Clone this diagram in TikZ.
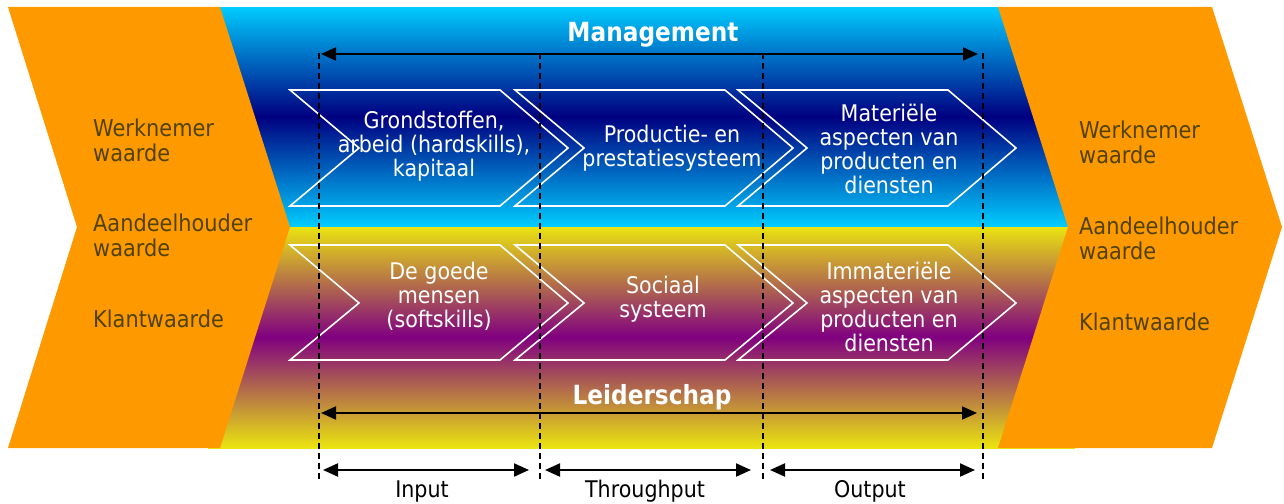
\documentclass[tikz,border=0pt]{standalone}
\usepackage{fontspec}
\setmainfont{DejaVu Sans}
\newfontfamily\tah[FakeStretch=0.9]{DejaVu Sans}
\newfontfamily\tahh[FakeStretch=0.88]{DejaVu Sans}
\usetikzlibrary{arrows.meta,calc}
\definecolor{orng}{RGB}{255,153,0}
\definecolor{cyanc}{RGB}{0,204,255}
\definecolor{navyc}{RGB}{0,0,128}
\definecolor{yellc}{RGB}{234,228,16}
\definecolor{purpc}{RGB}{128,0,128}
\definecolor{olivec}{RGB}{80,66,0}
\newcommand\mychev[4]{% x0, ytop, ymid, ybot
  \draw[chev] (#1,#2) -- ++(210,0) -- ($(#1,#3)+(278,0)$) -- ($(#1,#4)+(210,0)$) -- (#1,#4) -- ($(#1,#3)+(69,0)$) -- cycle;}
\tikzset{
  chev/.style={draw=white, line width=1.6bp, line join=miter},
  chevtext/.style={text=white, align=center, inner sep=0pt, font=\tah\fontsize{23}{24}\selectfont},
  valtext/.style={text=olivec, align=left, anchor=west, inner sep=0pt, font=\tah\fontsize{23.3}{25}\selectfont},
  headtext/.style={text=white, anchor=base, inner sep=0pt, font=\tahh\bfseries\fontsize{26.5}{28}\selectfont},
  phasetext/.style={text=black, anchor=base, inner sep=0pt, font=\tah\fontsize{23}{24}\selectfont},
  divider/.style={black, line width=1.7bp, dash pattern=on 6bp off 4bp},
  span/.style={black, line width=2bp, {Triangle[length=15bp,width=13bp]}-{Triangle[length=15bp,width=13bp]}},
  orangebox/.style={fill=orng, draw=none}
}
\begin{document}
\begin{tikzpicture}[x=1bp,y=-1bp]
\useasboundingbox (0,0) rectangle (1284,504);
\fill[white] (0,0) rectangle (1284,504);
% background bands (manual vertical gradients)
\foreach \i in {0,...,219} {
  \pgfmathsetmacro\p{abs(\i+0.5-110)/110*100}
  \fill[cyanc!\p!navyc] (208,7+\i) rectangle (1075,8.7+\i);
}
\foreach \i in {0,...,220} {
  \pgfmathsetmacro\p{abs(\i+0.5-110.5)/110.5*100}
  \fill[yellc!\p!purpc] (208,227+\i) rectangle (1075,228.7+\i);
}
\fill[yellc] (208,447) rectangle (1075,448);
% orange chevrons
\fill[orangebox] (8,7) -- (220,7) -- (290,227) -- (220,448) -- (8,448) -- (77,227) -- cycle;
\fill[orangebox] (998,7) -- (1212,7) -- (1282,227) -- (1212,448) -- (998,448) -- (1068,227) -- cycle;
% white process chevrons
\mychev{290}{90}{148}{206}
\mychev{515}{90}{148}{206}
\mychev{738}{90}{148}{206}
\mychev{290}{245}{303}{360}
\mychev{515}{245}{303}{360}
\mychev{738}{245}{303}{360}
% chevron texts
\node[chevtext] (t1) at (434,146) {Grondstoffen,\\arbeid (hardskills),\\kapitaal};
\node[chevtext] (t2) at (672,148) {Productie- en\\prestatiesysteem};
\node[chevtext] (t3) at (889,149) {Materiële\\aspecten van\\producten en\\diensten};
\node[chevtext] (b1) at (439,296) {De goede\\mensen\\(softskills)};
\node[chevtext] (b2) at (663,299) {Sociaal\\systeem};
\node[chevtext] (b3) at (889,307) {Immateriële\\aspecten van\\producten en\\diensten};
% value texts
\node[valtext] (lw) at (93,140) {Werknemer\\waarde};
\node[valtext] (la) at (93,235) {Aandeelhouder\\waarde};
\node[valtext] (lk) at (93,319) {Klantwaarde};
\node[valtext] (rw) at (1079,142) {Werknemer\\waarde};
\node[valtext] (ra) at (1079,238) {Aandeelhouder\\waarde};
\node[valtext] (rk) at (1079,322) {Klantwaarde};
% headers
\node[headtext] (mg) at (653,42) {Management};
\node[headtext] (ld) at (652,404) {Leiderschap};
% dividers
\coordinate (d1t) at (319,53); \coordinate (d1b) at (319,482);
\coordinate (d2t) at (540,53); \coordinate (d2b) at (540,482);
\coordinate (d3t) at (763,53); \coordinate (d3b) at (763,482);
\coordinate (d4t) at (983,53); \coordinate (d4b) at (983,482);
\draw[divider] (d1t) -- (d1b);
\draw[divider] (d2t) -- (d2b);
\draw[divider] (d3t) -- (d3b);
\draw[divider] (d4t) -- (d4b);
% spans
\coordinate (ma) at (321,54); \coordinate (mb) at (978,54);
\coordinate (la1) at (321,413); \coordinate (lb1) at (977,413);
\draw[span] (ma) -- (mb);
\draw[span] (la1) -- (lb1);
\coordinate (i1) at (323,470); \coordinate (i2) at (529,470);
\coordinate (p1) at (545,470); \coordinate (p2) at (751,470);
\coordinate (o1) at (770,470); \coordinate (o2) at (975,470);
\draw[span] (i1) -- (i2);
\draw[span] (p1) -- (p2);
\draw[span] (o1) -- (o2);
\node[phasetext] (inp) at (422,497) {Input};
\node[phasetext] (thr) at (645,497) {Throughput};
\node[phasetext] (out) at (870,497) {Output};
\end{tikzpicture}
\end{document}
